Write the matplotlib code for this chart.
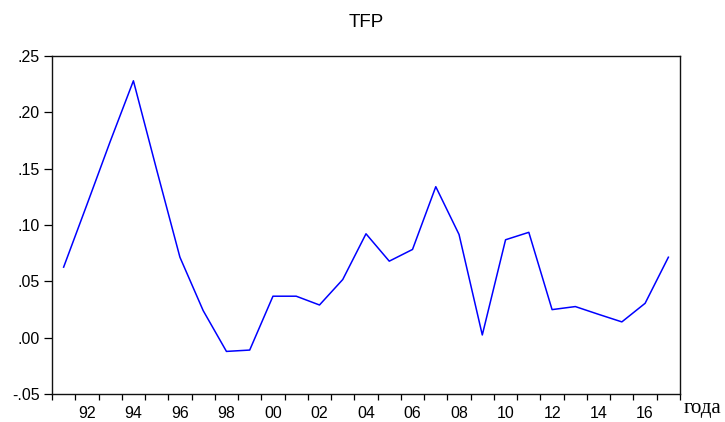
import numpy as np
import matplotlib
matplotlib.use("Agg")
import matplotlib.pyplot as plt

years = list(range(1991, 2018))
tfp = [0.0626, 0.118, 0.174, 0.228, 0.149, 0.0714, 0.024, -0.0122, -0.011,
       0.0368, 0.0368, 0.029, 0.0516, 0.0922, 0.0679, 0.0783, 0.134, 0.0916,
       0.0024, 0.0869, 0.0935, 0.0249, 0.0276, 0.0207, 0.014, 0.0305, 0.0714]

ytick_vals = [-0.05, 0.00, 0.05, 0.10, 0.15, 0.20, 0.25]
ytick_labels = ["-.05", ".00", ".05", ".10", ".15", ".20", ".25"]
xlabel_years = list(range(1992, 2018, 2))
xlabel_text = [f"{y % 100:02d}" for y in xlabel_years]

plt.rcParams["font.family"] = ["Liberation Sans", "DejaVu Sans"]

fig = plt.figure(figsize=(7.25, 4.22), dpi=100)
ax = fig.add_axes([52/725, 1 - 394/422, (680 - 52)/725, (394 - 56)/422])

ax.plot(years, tfp, color="#0000FF", lw=1.1)

ax.set_xlim(1990.5, 2017.5)
ax.set_ylim(-0.05, 0.25)

ax.set_yticks(ytick_vals)
ax.set_yticklabels(ytick_labels, fontsize=11.5)
ax.tick_params(axis="y", direction="out", length=6, width=0.9, pad=3)

# year boundaries get the tick marks, labels sit in the middle of the year
ax.set_xticks(np.arange(1990.5, 2018, 1.0), minor=True)
ax.set_xticks(xlabel_years)
ax.set_xticklabels(xlabel_text, fontsize=11.5)
ax.tick_params(axis="x", which="major", length=0, pad=9)
ax.tick_params(axis="x", which="minor", direction="out", length=4.5, width=0.9)

for s in ax.spines.values():
    s.set_linewidth(1.0)
    s.set_color("#111111")

ax.set_title("TFP", fontsize=13.5, pad=21)
fig.text(703/725, 1 - 408/422, "года", fontsize=15, ha="center", va="center",
         family=["Liberation Serif", "DejaVu Serif"])

fig.savefig("out.png", dpi=100)
